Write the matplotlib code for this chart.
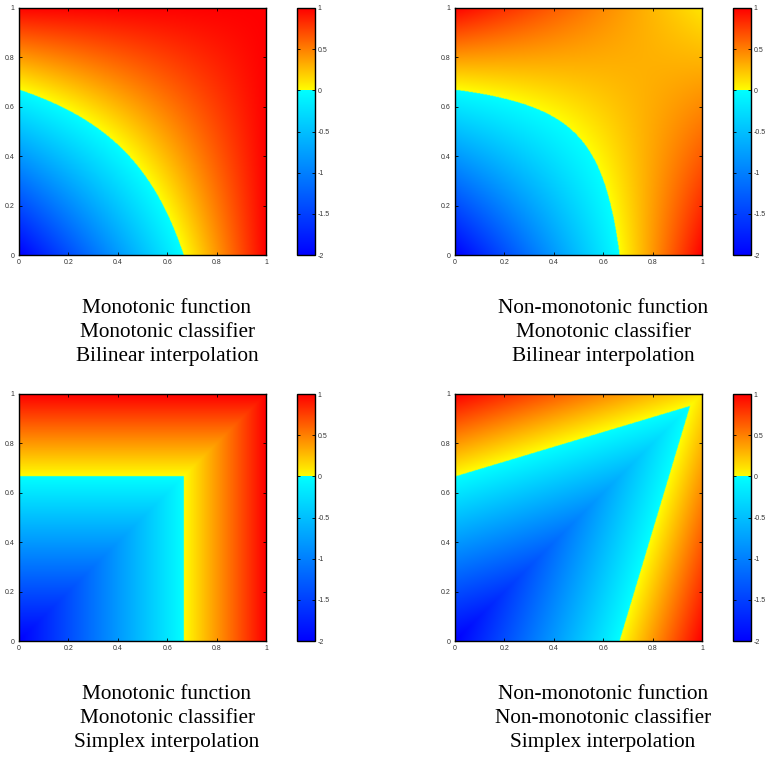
import matplotlib
matplotlib.use('Agg')
import matplotlib.pyplot as plt
import numpy as np
from matplotlib.colors import LinearSegmentedColormap

# corner values f(0,0), f(1,0), f(0,1), f(1,1)
corners_mono = [-2.0, 1.0, 1.0, 1.0]
corners_nonmono = [-2.0, 1.0, 1.0, 0.1]

captions = [
    ['Monotonic function', 'Monotonic classifier', 'Bilinear interpolation'],
    ['Non-monotonic function', 'Monotonic classifier', 'Bilinear interpolation'],
    ['Monotonic function', 'Monotonic classifier', 'Simplex interpolation'],
    ['Non-monotonic function', 'Non-monotonic classifier', 'Simplex interpolation'],
]
ticks = [0, 0.2, 0.4, 0.6, 0.8, 1]
tick_labels = ['0', '0.2', '0.4', '0.6', '0.8', '1']
cb_ticks = [-2, -1.5, -1, -0.5, 0, 0.5, 1]
cb_labels = ['-2', '-1.5', '-1', '-0.5', '0', '0.5', '1']

# colormap: blue->cyan below 0, yellow->red above 0
cdict = {
    'red':   [(0, 0, 0), (2/3, 0, 1), (1, 1, 1)],
    'green': [(0, 0, 0), (2/3, 1, 1), (1, 0, 0)],
    'blue':  [(0, 1, 1), (2/3, 1, 0), (1, 0, 0)],
}
cmap = LinearSegmentedColormap('split', cdict, N=1024)

n = 400
g = np.linspace(0, 1, n)
X, Y = np.meshgrid(g, g)


def bilinear(c):
    f00, f10, f01, f11 = c
    return (f00*(1-X)*(1-Y) + f10*X*(1-Y) + f01*(1-X)*Y + f11*X*Y)


def simplex(c):
    f00, f10, f01, f11 = c
    lo = np.minimum(X, Y)
    hi = np.maximum(X, Y)
    mid = np.where(X >= Y, f10, f01)
    return f00*(1-hi) + mid*(hi-lo) + f11*lo


fields = [bilinear(corners_mono), bilinear(corners_nonmono),
          simplex(corners_mono), simplex(corners_nonmono)]

W, H = 766, 762
fig = plt.figure(figsize=(W/100, H/100), dpi=100)

ax_x = [19, 455]
ax_y = [8, 394]
aw, ah = 247, 247
cb_off = 278
cbw = 18

tfont = {'family': 'Liberation Sans', 'size': 5, 'color': '#333333'}

for i in range(4):
    col, row = i % 2, i // 2
    x0, y0 = ax_x[col], ax_y[row]
    ax = fig.add_axes([x0/W, 1-(y0+ah)/H, aw/W, ah/H])
    im = ax.imshow(fields[i], origin='lower', extent=[0, 1, 0, 1],
                   cmap=cmap, vmin=-2, vmax=1, aspect='auto',
                   interpolation='bilinear')
    ax.set_xticks(ticks)
    ax.set_yticks(ticks)
    ax.set_xticklabels(tick_labels, fontdict=tfont)
    ax.set_yticklabels(tick_labels, fontdict=tfont)
    ax.tick_params(direction='in', top=True, right=True, length=2.5,
                   width=0.6, pad=3)
    for s in ax.spines.values():
        s.set_linewidth(1.0)

    cax = fig.add_axes([(x0+cb_off)/W, 1-(y0+ah)/H, cbw/W, ah/H])
    cb = fig.colorbar(im, cax=cax)
    cb.set_ticks(cb_ticks)
    cb.set_ticklabels(cb_labels)
    for t in cax.get_yticklabels():
        t.set_fontfamily('Liberation Sans')
        t.set_fontsize(5)
        t.set_color('#333333')
    cax.tick_params(direction='in', left=True, right=True, length=2.5,
                    width=0.6, pad=2)
    cb.outline.set_linewidth(1.0)

    cx = (x0 + x0 + cb_off + cbw) / 2
    for k, line in enumerate(captions[i]):
        fig.text(cx/W, 1-(y0+ah+53.5+24*k)/H, line, ha='center', va='center',
                 family='Liberation Serif', fontsize=15.3)

fig.savefig('out.png', dpi=100)
